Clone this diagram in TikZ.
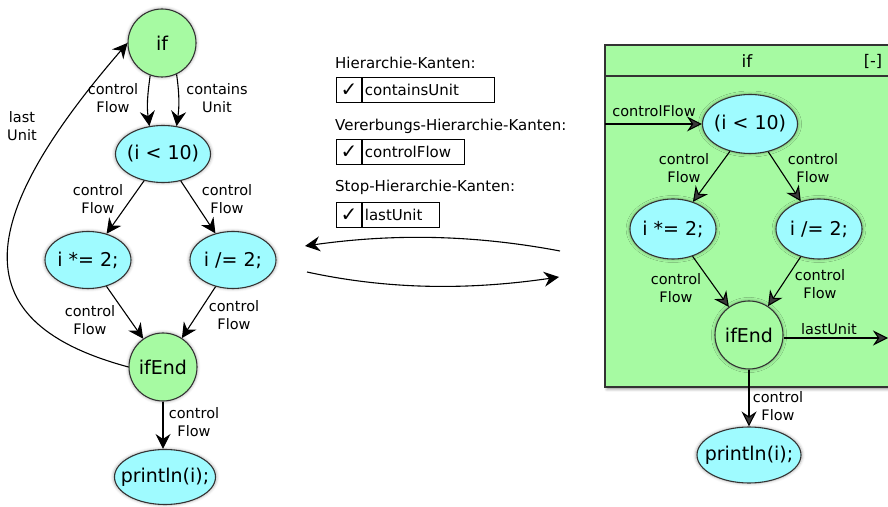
\documentclass[tikz,border=0pt]{standalone}
\usepackage{fontspec}
\setmainfont{DejaVu Sans}
\usetikzlibrary{arrows.meta,shapes.geometric,shadows.blur}

\definecolor{stmtfill}{HTML}{9FFBFF}
\definecolor{ctrlfill}{HTML}{A6FAA2}
\definecolor{edgegray}{HTML}{333333}

% statement text that does not widen its ellipse
\newcommand{\stmttext}[1]{\makebox[0pt]{#1}}

\tikzset{
  base/.style={draw=edgegray, line width=1.1pt, inner sep=0pt,
    font=\fontsize{19}{22}\selectfont,
    blur shadow={shadow xshift=0pt, shadow yshift=0pt, shadow scale=1.03,
      shadow blur radius=2.5pt, shadow blur steps=6, shadow opacity=25}},
  stmt/.style={base, ellipse, fill=stmtfill},
  ctrl/.style={base, circle, fill=ctrlfill, minimum size=68pt},
  lbl/.style={align=center, inner sep=0pt, font=\fontsize{14.5}{18.5}\selectfont},
  title/.style={anchor=west, inner sep=0pt, font=\fontsize{15}{18}\selectfont},
  cell/.style={draw, line width=0.9pt, minimum height=25pt, inner sep=0pt,
    font=\fontsize{15}{18}\selectfont},
  tick/.style={cell, minimum width=25pt, font=\fontsize{20}{20}\selectfont},
  edge/.style={line width=1.1pt, -{Stealth[length=15pt, width=15pt, inset=5pt]}}
}

\begin{document}
\begin{tikzpicture}[x=1pt, y=1pt]
\useasboundingbox (0,0) rectangle (888,506);

% ---------- left: plain control-flow graph ----------
\node[ctrl] (if) at (162,463) {if};
\node[stmt, minimum width=95pt, minimum height=57pt] (cond) at (163,352) {\stmttext{(i < 10)}};
\node[stmt, minimum width=86pt, minimum height=57pt] (mul) at (88,246) {\stmttext{i *= 2;}};
\node[stmt, minimum width=86pt, minimum height=57pt] (div) at (233,246) {\stmttext{i /= 2;}};
\node[ctrl] (ifEnd) at (163,139) {ifEnd};
\node[stmt, minimum width=101pt, minimum height=55pt] (print) at (165,29) {\stmttext{println(i);}};

\draw[edge] (if.250) to[out=262, in=98] (cond.116);
\draw[edge] (if.295) to[out=278, in=82] (cond.64);
\draw[edge] (cond) -- (mul);
\draw[edge] (cond) -- (div);
\draw[edge] (mul) -- (ifEnd);
\draw[edge] (div) -- (ifEnd);
\draw[edge] (ifEnd.south) -- (ifEnd.south |- print.north);
\draw[edge] (ifEnd.west) .. controls (-35,183) and (-29,282) .. (if.west);

\node[lbl] (l1) at (113,408) {control\\Flow};
\node[lbl] (l2) at (217,408) {contains\\Unit};
\node[lbl] (l3) at (98,307) {control\\Flow};
\node[lbl] (l4) at (227,307) {control\\Flow};
\node[lbl] (l5) at (90,186) {control\\Flow};
\node[lbl] (l6) at (234,191) {control\\Flow};
\node[lbl] (l7) at (194,84) {control\\Flow};
\node[lbl] (l8) at (22,380) {last\\Unit};

% ---------- middle: edge-type filter ----------
\node[title] (t1) at (335,443) {Hierarchie-Kanten:};
\node[tick, anchor=north west] (c1) at (336,429) {✓};
\node[cell, minimum width=132pt, anchor=west, text width=127pt, align=left] (e1) at (c1.east) {containsUnit};

\node[title] (t2) at (335,380) {Vererbungs-Hierarchie-Kanten:};
\node[tick, anchor=north west] (c2) at (336,367) {✓};
\node[cell, minimum width=102pt, anchor=west, text width=97pt, align=left] (e2) at (c2.east) {controlFlow};

\node[title] (t3) at (335,319) {Stop-Hierarchie-Kanten:};
\node[tick, anchor=north west] (c3) at (336,304) {✓};
\node[cell, minimum width=77pt, anchor=west, text width=72pt, align=left] (e3) at (c3.east) {lastUnit};

\coordinate (uA) at (560,255);
\coordinate (uB) at (305,260);
\coordinate (dA) at (307,234);
\coordinate (dB) at (559,229);
\draw[edge] (uA) .. controls (470,272) and (390,272) .. (uB);
\draw[edge] (dA) .. controls (390,216) and (470,216) .. (dB);

% ---------- right: collapsed "if" unit ----------
\fill[ctrlfill, draw=edgegray, line width=1.4pt,
  blur shadow={shadow xshift=2pt, shadow yshift=-2pt, shadow blur radius=3pt, shadow opacity=45}]
  (605,119) rectangle (905,461);
\draw[edgegray, line width=1.2pt] (605,430) -- (905,430);
\node[lbl, font=\fontsize{17}{20}\selectfont] (ut) at (747,445) {if};
\node[lbl, font=\fontsize{16}{19}\selectfont] (uc) at (873,445) {[-]};

\node[stmt, minimum width=95pt, minimum height=59pt] (cond2) at (750,382) {\stmttext{(i < 10)}};
\node[stmt, minimum width=86pt, minimum height=60pt] (mul2) at (673,277) {\stmttext{i *= 2;}};
\node[stmt, minimum width=86pt, minimum height=60pt] (div2) at (819,277) {\stmttext{i /= 2;}};
\node[ctrl] (ifEnd2) at (749,171) {ifEnd};
\node[stmt, minimum width=104pt, minimum height=56pt] (print2) at (749,51) {\stmttext{println(i);}};

\coordinate (inL) at (605,382);
\coordinate (outR) at (888,168);
\draw[edge] (inL) -- (cond2.west);
\draw[edge] (cond2) -- (mul2);
\draw[edge] (cond2) -- (div2);
\draw[edge] (mul2) -- (ifEnd2);
\draw[edge] (div2) -- (ifEnd2);
\draw[edge] (ifEnd2.east |- outR) -- (outR);
\draw[edge] (ifEnd2.south) -- (ifEnd2.south |- print2.north);

\node[lbl] (r0) at (654,395) {controlFlow};
\node[lbl] (r1) at (684,338) {control\\Flow};
\node[lbl] (r2) at (813,338) {control\\Flow};
\node[lbl] (r3) at (676,218) {control\\Flow};
\node[lbl] (r4) at (820,222) {control\\Flow};
\node[lbl] (r5) at (829,177) {lastUnit};
\node[lbl] (r6) at (778,100) {control\\Flow};
\end{tikzpicture}
\end{document}
